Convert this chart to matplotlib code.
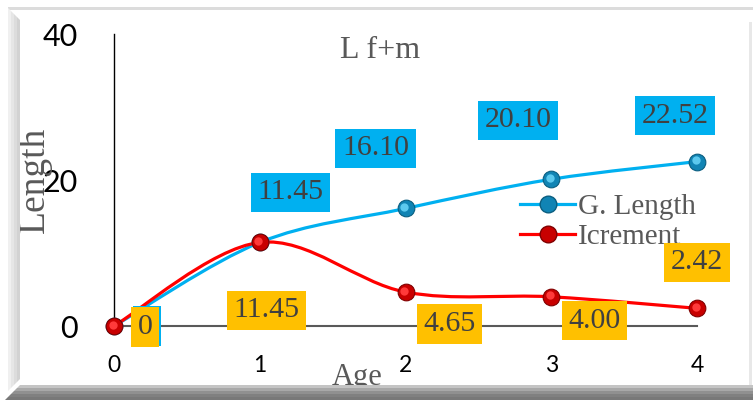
import numpy as np
import matplotlib
matplotlib.use("Agg")
import matplotlib.pyplot as plt
from matplotlib.path import Path
from matplotlib.patches import PathPatch, Polygon
from matplotlib.lines import Line2D
from matplotlib.transforms import offset_copy

## Data
age = [0, 1, 2, 3, 4]
g_length = [0, 11.45, 16.10, 20.10, 22.52]
increment = [0, 11.45, 4.65, 4.00, 2.42]
g_labels = ['0', '11.45', '16.10', '20.10', '22.52']
inc_labels = ['0', '11.45', '4.65', '4.00', '2.42']

title = 'L f+m'
xlabel = 'Age'
ylabel = 'Length'
series_names = ['G. Length', 'Icrement']

# label box offsets in pixels (dx, dy up)
g_offsets = [(33, 0), (31, 50), (-30, 60), (-33, 59), (-22, 46)]
inc_offsets = [(31, -1), (7, -68), (44, -32), (43, -24), (0, 46)]

blue = '#00B0F0'
orange = '#FFC000'
red = '#FF0000'
W, H = 753, 400

fig = plt.figure(figsize=(W / 100, H / 100), dpi=100)
fig.patch.set_facecolor('white')


def px(x, y):
    # pixel position measured from the top left corner -> figure fraction
    return (x / W, 1 - y / H)


def strip(pts, color, z=10):
    fig.patches.append(Polygon([px(*p) for p in pts], closed=True, transform=fig.transFigure,
                               facecolor=color, edgecolor='none', zorder=z))


## Bevelled frame
strip([(8, 7), (753, 7), (753, 10), (8, 10)], '#dcdcdc')
strip([(749, 22), (752, 22), (752, 387), (749, 387)], '#e8e8e8')
left_cols = ['#f0f0f0', '#e6e6e6', '#dcdcdc', '#d2d2d2']
for i, c in enumerate(left_cols):
    x0 = 8 + i * 3
    strip([(x0, 8 + i * 3), (x0 + 3, 11 + i * 3), (x0 + 3, 388 - i * 3), (x0, 391 - i * 3)], c)
bottom_cols = ['#c4c4c4', '#a8a8a8', '#909090', '#808080', '#787878']
for i, c in enumerate(bottom_cols):
    y0 = 385 + i * 3
    strip([(20 - i * 3, y0), (753, y0), (753, y0 + 3), (17 - i * 3, y0 + 3)], c)

## Axes
ax = fig.add_axes([114 / W, (H - 326) / H, (697 - 114) / W, (326 - 34) / H])
ax.set_xlim(0, 4)
ax.set_ylim(0, 40)
ax.patch.set_alpha(0)
for s in ['top', 'right']:
    ax.spines[s].set_visible(False)
ax.spines['left'].set_color('black')
ax.spines['left'].set_linewidth(1.0)
ax.spines['bottom'].set_color('#595959')
ax.spines['bottom'].set_linewidth(1.5)
ax.set_xticks(age)
ax.set_yticks([0, 20, 40])
ax.tick_params(axis='both', length=0)
ax.tick_params(axis='y', pad=26, labelsize=22)
ax.tick_params(axis='x', pad=21, labelsize=16.5)
for lab in ax.get_xticklabels() + ax.get_yticklabels():
    lab.set_fontfamily('Lato')


## Smoothed lines (cubic Bezier through the points)
def smooth_path(xs, ys):
    pts = np.column_stack([xs, ys]).astype(float)
    ext = np.vstack([pts[0], pts, pts[-1]])
    verts = [pts[0]]
    codes = [Path.MOVETO]
    for i in range(len(pts) - 1):
        p0, p1, p2, p3 = ext[i], ext[i + 1], ext[i + 2], ext[i + 3]
        verts += [p1 + (p2 - p0) / 6, p2 - (p3 - p1) / 6, p2]
        codes += [Path.CURVE4] * 3
    return Path(verts, codes)


ax.add_patch(PathPatch(smooth_path(age, g_length), facecolor='none', edgecolor=blue,
                       lw=2.3, zorder=3, clip_on=False))
ax.add_patch(PathPatch(smooth_path(age, increment), facecolor='none', edgecolor=red,
                       lw=2.3, zorder=4, clip_on=False))

# ball markers: dark body with a lighter highlight
hl = offset_copy(ax.transData, fig=fig, x=-1.5, y=1.5, units='dots')
ax.plot(age, g_length, ls='none', marker='o', ms=12, mfc='#1184b4', mec='#0b5e80',
        mew=0.8, zorder=5, clip_on=False)
ax.plot(age, g_length, ls='none', marker='o', ms=6, mfc='#5cc9ee', mec='none',
        zorder=5, clip_on=False, transform=hl)
ax.plot(age, increment, ls='none', marker='o', ms=12, mfc='#c80000', mec='#800000',
        mew=0.8, zorder=6, clip_on=False)
ax.plot(age, increment, ls='none', marker='o', ms=6, mfc='#ff3a3a', mec='none',
        zorder=6, clip_on=False, transform=hl)

## Data labels
for x, y, t, (dx, dy) in zip(age, g_length, g_labels, g_offsets):
    ax.annotate(t, (x, y), xytext=(dx, dy), textcoords='offset pixels', ha='center', va='center',
                fontsize=21.5, family='Liberation Serif', color='#404040', zorder=7,
                bbox=dict(boxstyle='square,pad=0.22', fc=blue, ec='none'), annotation_clip=False)
for x, y, t, (dx, dy) in zip(age, increment, inc_labels, inc_offsets):
    ax.annotate(t, (x, y), xytext=(dx, dy), textcoords='offset pixels', ha='center', va='center',
                fontsize=21.5, family='Liberation Serif', color='#404040', zorder=8,
                bbox=dict(boxstyle='square,pad=0.22', fc=orange, ec='none'), annotation_clip=False)

## Legend
handles = [Line2D([], [], color=blue, lw=2.3, marker='o', ms=12, mfc='#1184b4', mec='#0b5e80'),
           Line2D([], [], color=red, lw=2.3, marker='o', ms=12, mfc='#c80000', mec='#800000')]
ax.legend(handles, series_names, loc='upper left', bbox_to_anchor=px(520, 194),
          bbox_transform=fig.transFigure, frameon=False, handlelength=1.9, handletextpad=0.1,
          labelspacing=0.12, borderpad=0, borderaxespad=0, labelcolor='#595959',
          prop={'family': 'Liberation Serif', 'size': 21})

## Titles
fig.text(*px(380, 50), title, ha='center', va='center', fontsize=23,
         family='Liberation Serif', color='#595959')
fig.text(*px(35, 180), ylabel, ha='center', va='center', rotation=90, fontsize=27,
         family='Liberation Serif', color='#595959')
fig.text(*px(357, 378), xlabel, ha='center', va='center', fontsize=22,
         family='Liberation Serif', color='#595959', zorder=1)

fig.savefig('out.png', dpi=100)
